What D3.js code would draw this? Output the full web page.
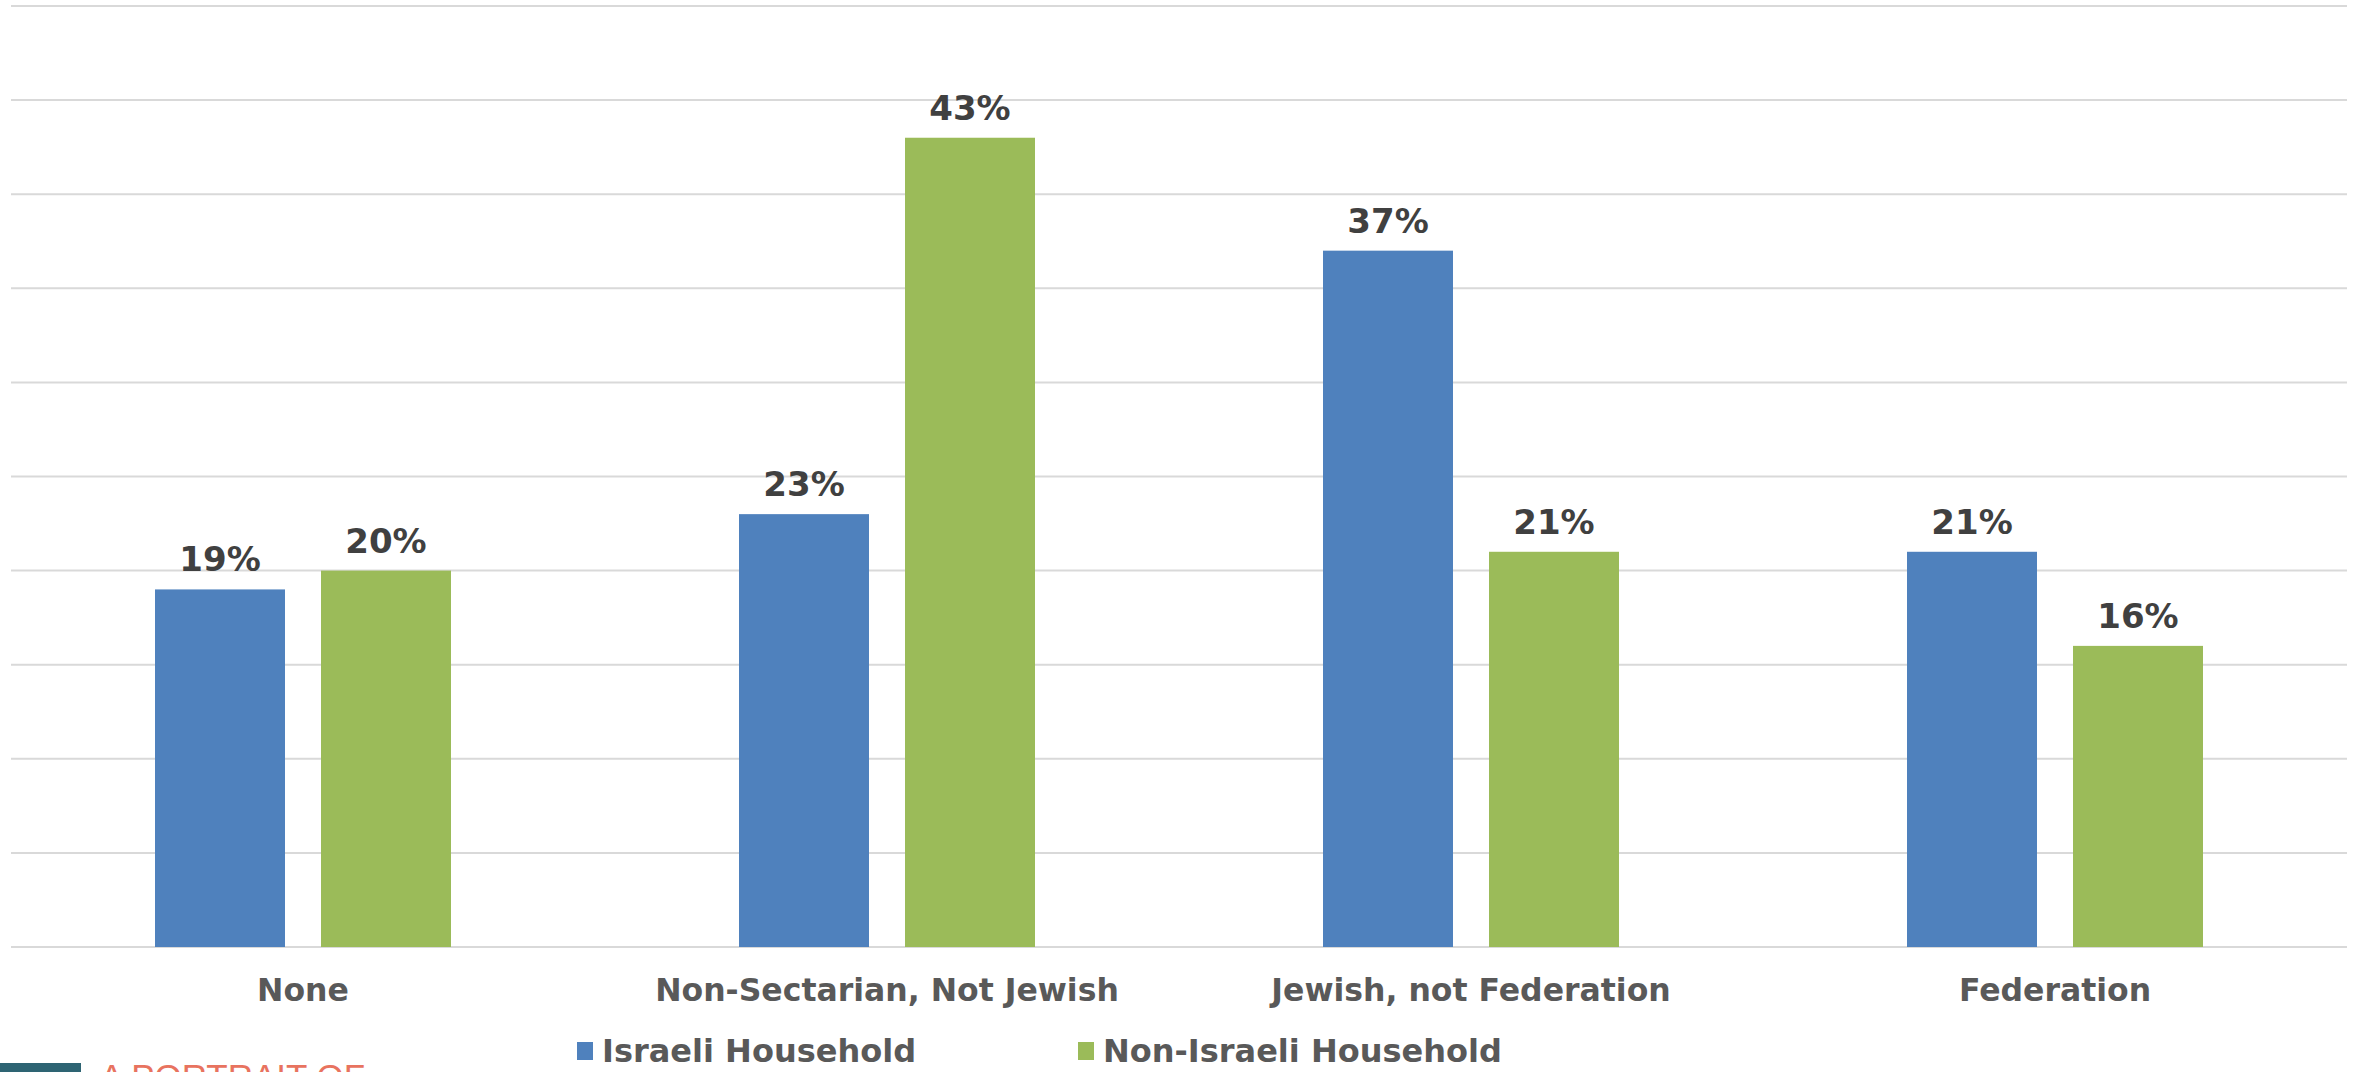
<!DOCTYPE html>
<html>
<head>
<meta charset="utf-8">
<script src="https://cdn.jsdelivr.net/npm/d3@7"></script>
<style>
  html, body { margin: 0; padding: 0; background: #fff; overflow: hidden; }
  svg { display: block; }
</style>
</head>
<body>
<svg id="chart" width="2361" height="1072"></svg>
<script>
const categories = ["None", "Non-Sectarian, Not Jewish", "Jewish, not Federation", "Federation"];
const seriesNames = ["Israeli Household", "Non-Israeli Household"];
const israeli = [19, 23, 37, 21];
const nonIsraeli = [20, 43, 21, 16];
const yTicks = [0, 5, 10, 15, 20, 25, 30, 35, 40, 45, 50];
const colors = ["#4f81bd", "#9bbb59"];

(function () {
const svg = d3.select("#chart");
const plotLeft = 11, plotRight = 2347, plotTop = 6, plotBottom = 947;

const x = d3.scaleBand().domain(categories).range([plotLeft, plotRight]).paddingInner(0).paddingOuter(0);
const y = d3.scaleLinear().domain([0, 50]).range([plotBottom, plotTop]);

// gridlines
svg.append("g").selectAll("line").data(yTicks).join("line")
  .attr("x1", plotLeft).attr("x2", plotRight)
  .attr("y1", d => y(d)).attr("y2", d => y(d))
  .attr("stroke", "#d9d9d9").attr("stroke-width", 2);

const barW = 130, gap = 36;
const x1 = d3.scaleBand().domain(seriesNames)
  .range([-(barW + gap / 2), barW + gap / 2]).paddingInner(gap / (barW + gap)).paddingOuter(0);

const data = categories.map((c, i) => ({ cat: c, vals: [
  { s: seriesNames[0], v: israeli[i], c: colors[0] },
  { s: seriesNames[1], v: nonIsraeli[i], c: colors[1] }
]}));

const groups = svg.append("g").selectAll("g").data(data).join("g")
  .attr("transform", d => `translate(${x(d.cat) + x.bandwidth() / 2},0)`);

groups.selectAll("rect").data(d => d.vals).join("rect")
  .attr("x", d => x1(d.s)).attr("width", x1.bandwidth())
  .attr("y", d => y(d.v)).attr("height", d => y(0) - y(d.v))
  .attr("fill", d => d.c);

groups.selectAll("text").data(d => d.vals).join("text")
  .attr("x", d => x1(d.s) + x1.bandwidth() / 2)
  .attr("y", d => y(d.v) - 18)
  .attr("text-anchor", "middle")
  .attr("font-family", "DejaVu Sans, Verdana, sans-serif")
  .attr("font-weight", "bold").attr("font-size", 34)
  .attr("fill", "#404040")
  .text(d => d.v + "%");

// x axis labels
const xAxis = d3.axisBottom(x).tickSize(0).tickPadding(0);
const gx = svg.append("g").attr("transform", `translate(0,${plotBottom})`).call(xAxis);
gx.select(".domain").remove();
gx.selectAll("text")
  .attr("dy", 0).attr("y", 54)
  .attr("font-family", "DejaVu Sans, Verdana, sans-serif")
  .attr("font-weight", "bold").attr("font-size", 31.5)
  .attr("fill", "#595959");

// legend
const legendX = [577, 1078];
const lg = svg.append("g").selectAll("g").data(seriesNames).join("g")
  .attr("transform", (d, i) => `translate(${legendX[i]},0)`);
lg.append("rect").attr("x", 0).attr("y", 1042).attr("width", 16).attr("height", 18)
  .attr("fill", (d, i) => colors[i]);
lg.append("text").attr("x", 25).attr("y", 1062)
  .attr("font-family", "DejaVu Sans, Verdana, sans-serif")
  .attr("font-weight", "bold").attr("font-size", 32)
  .attr("fill", "#595959")
  .text(d => d);

// logo fragment bottom-left
svg.append("rect").attr("x", 0).attr("y", 1063).attr("width", 81).attr("height", 20).attr("fill", "#2e6473");
svg.append("text").attr("x", 100).attr("y", 1089)
  .attr("font-family", "Liberation Sans, Arial, sans-serif")
  .attr("font-size", 35).attr("fill", "#e8735f")
  .text("A PORTRAIT OF");
})();
</script>
</body>
</html>
